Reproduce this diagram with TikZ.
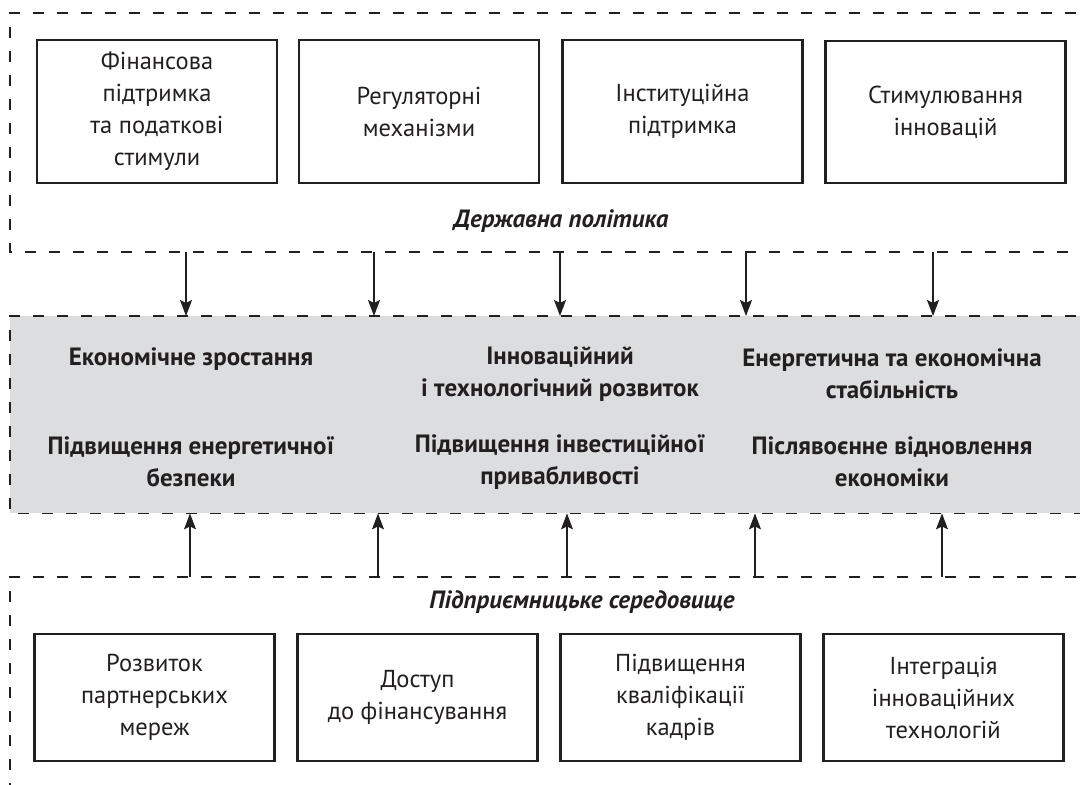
\documentclass[tikz,border=0pt]{standalone}
\usepackage{fontspec}
\setmainfont{PT Sans}
\usetikzlibrary{arrows.meta}
\definecolor{ink}{HTML}{231F20}
\definecolor{bandgray}{HTML}{DCDDDE}
\begin{document}
\begin{tikzpicture}[x=1pt,y=-1pt,
  frame/.style={draw=ink,line width=1.6pt,dash pattern=on 11pt off 13pt},
  box/.style={draw=ink,line width=2.4pt,minimum width=240pt,align=center,
    font=\fontsize{24.5}{32}\selectfont,text=ink,inner sep=0pt},
  topbox/.style={box,minimum height=142.5pt},
  botbox/.style={box,minimum height=126.5pt},
  goal/.style={align=center,font=\bfseries\fontsize{25}{32}\selectfont,text=ink,inner sep=0pt},
  title/.style={font=\bfseries\itshape\fontsize{25}{32}\selectfont,text=ink,inner sep=0pt,anchor=base},
  arr/.style={draw=ink,line width=1.2pt,-{Stealth[length=16pt,width=12pt,inset=3pt]}}
]
\path[use as bounding box,clip] (0,0) rectangle (1080,785);

% top frame
\draw[frame] (1100,13) -- (10,13) -- (10,252) -- (1100,252);
% band
\node[fill=bandgray,minimum width=1090pt,minimum height=197pt,anchor=north west,inner sep=0pt] (band) at (10,316) {};
\draw[frame] (band.north east) -- (band.north west) -- (band.south west) -- (band.south east);
% bottom frame
\draw[frame] (1100,577) -- (10,577) -- (10,800);

% top boxes
\node[topbox] (f1) at (157,111.5) {Фінансова\\підтримка\\та податкові\\стимули};
\node[topbox] (f2) at (419,111.5) {Регуляторні\\механізми};
\node[topbox] (f3) at (682.5,111.5) {Інституційна\\підтримка};
\node[topbox] (f4) at (945.5,112) {Стимулювання\\інновацій};
\node[title] (gov) at (561,227) {Державна політика};

% band texts
\node[goal,anchor=base] (g1) at (191,365) {Економічне зростання};
\node[goal] (g2) at (560,374) {Інноваційний\\і технологічний розвиток};
\node[goal] (g3) at (892,374) {Енергетична та економічна\\стабільність};
\node[goal] (g4) at (191,462) {Підвищення енергетичної\\безпеки};
\node[goal] (g5) at (560,462) {Підвищення інвестиційної\\привабливості};
\node[goal] (g6) at (892,462) {Післявоєнне відновлення\\економіки};

% bottom
\node[title] (ent) at (582,608) {Підприємницьке середовище};
\node[botbox] (e1) at (154.5,697.5) {Розвиток\\партнерських\\мереж};
\node[botbox] (e2) at (417.5,697.5) {Доступ\\до фінансування};
\node[botbox] (e3) at (680.5,697.5) {Підвищення\\кваліфікації\\кадрів};
\node[botbox] (e4) at (943.5,697.5) {Інтеграція\\інноваційних\\технологій};

% arrows
\foreach \i/\x in {1/186,2/374,3/560,4/746,5/933}{
  \coordinate (t\i) at (\x,252);
  \draw[arr] (t\i) -- (t\i |- band.north);
}
\foreach \i/\x in {1/190,2/378,3/567,4/755,5/942}{
  \coordinate (b\i) at (\x,577);
  \draw[arr] (b\i) -- (b\i |- band.south);
}
\end{tikzpicture}
\end{document}
